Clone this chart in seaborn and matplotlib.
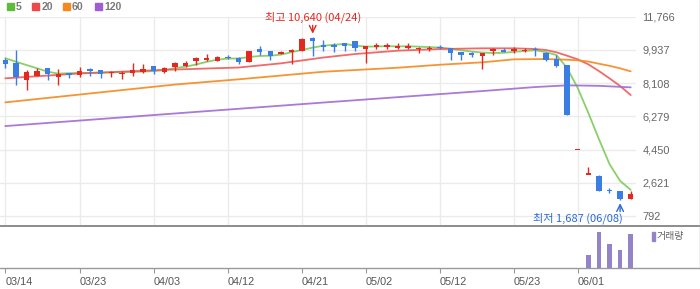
import matplotlib
matplotlib.use("Agg")
import matplotlib.pyplot as plt
from matplotlib.patches import Rectangle
from matplotlib.lines import Line2D
import numpy as np
import pandas as pd
import seaborn as sns

# ---------------- data ----------------
dates = ["03/14", "03/15", "03/16", "03/17", "03/20", "03/21", "03/22", "03/23", "03/24", "03/27",
         "03/28", "03/29", "03/30", "03/31", "04/03", "04/04", "04/05", "04/06", "04/07", "04/10",
         "04/11", "04/12", "04/13", "04/14", "04/17", "04/18", "04/19", "04/20", "04/21", "04/24",
         "04/25", "04/26", "04/27", "04/28", "05/02", "05/03", "05/04", "05/08", "05/09", "05/10",
         "05/11", "05/12", "05/15", "05/16", "05/17", "05/18", "05/19", "05/22", "05/23", "05/24",
         "05/25", "05/26", "05/30", "05/31", "06/01", "06/02", "06/05", "06/07", "06/08", "06/09"]

open_ = [9397, 9215, 8278, 8499, 8939, 8460, 8664, 8554, 8840, 8829,
         8670, 8640, 8664, 8736, 9050, 8719, 8978, 9066, 9309, 9380,
         9342, 9540, 9474, 9270, 9986, 9876, 9694, 9838, 9893, 10600,
         10160, 10223, 10300, 10427, 10003, 10150, 10150, 10085, 10085, 10015,
         10015, 10090, 10025, 9821, 9766, 9617, 9920, 9931, 9920, 9905,
         9975, 9749, 9419, 9121, 4450, 3115, 3005, 2200, 2145, 1738]
high = [9507, 9931, 8829, 8923, 8939, 8884, 8664, 8994, 8956, 8829,
        8791, 8774, 9215, 9143, 9050, 8994, 9286, 9342, 9545, 9694,
        9600, 9655, 9545, 9876, 10152, 9876, 9876, 9970, 10592, 10640,
        10482, 10300, 10300, 10427, 10152, 10300, 10300, 10300, 10300, 10113,
        10150, 10206, 10025, 9821, 9821, 9766, 10025, 10025, 10113, 10025,
        10080, 9821, 9639, 9121, 4450, 3500, 3044, 2311, 2150, 2145]
low = [8956, 8003, 7727, 8499, 8278, 8003, 8405, 8460, 8515, 8405,
       8460, 8333, 8515, 8680, 8625, 8680, 8791, 9011, 9105, 9325,
       9342, 9419, 9160, 9270, 9656, 9397, 9694, 9160, 9893, 9617,
       9893, 9821, 9893, 9893, 9231, 9970, 10000, 10000, 10000, 9750,
       9870, 9970, 9397, 9397, 9529, 8884, 9656, 9804, 9783, 9821,
       9617, 9342, 8978, 6350, 4450, 3115, 2179, 2035, 1687, 1738]
close = [9176, 8443, 8702, 8774, 8609, 8625, 8554, 8774, 8820, 8625,
         8690, 8655, 8846, 8901, 8758, 8956, 9231, 9231, 9490, 9507,
         9545, 9520, 9270, 9876, 9804, 9617, 9821, 9931, 10521, 10427,
         10140, 10080, 10168, 10058, 10152, 10170, 10170, 10105, 10105, 10035,
         10035, 10070, 9783, 9672, 9672, 9766, 9940, 9838, 9940, 9925,
         9965, 9397, 9050, 6350, 4450, 3115, 2179, 2170, 1705, 1997]
# closes of the four sessions before 03/14 (needed for the first 5-day averages)
prior_close = [9433, 9612, 9684, 9520]

# moving averages
ma20_dates = ["03/14", "03/23", "04/04", "04/13", "04/19", "04/25", "04/28", "05/08", "05/12", "05/18",
              "05/23", "05/25", "05/26", "05/30", "05/31", "06/01", "06/02", "06/05", "06/07", "06/08", "06/09"]
ma20_vals = [8372, 8640, 8840, 8967, 9198, 9518, 9711, 9893, 9986, 10025,
             10025, 9986, 9931, 9804, 9617, 9419, 9143, 8774, 8372, 7948, 7452]
ma60_dates = ["03/14", "03/24", "04/05", "04/13", "04/25", "05/08", "05/12", "05/18", "05/23", "05/26",
              "05/31", "06/01", "06/02", "06/05", "06/07", "06/08", "06/09"]
ma60_vals = [7049, 7540, 8030, 8317, 8735, 8956, 9121, 9253, 9419, 9435,
             9397, 9364, 9298, 9177, 9061, 8923, 8757]
ma120_dates = ["03/14", "04/04", "04/25", "05/18", "05/25", "05/31", "06/05", "06/09"]
ma120_vals = [5743, 6394, 7039, 7672, 7893, 7986, 7959, 7876]

vol_dates = ["06/02", "06/05", "06/07", "06/08", "06/09"]
vol_vals = [131, 367, 242, 185, 343]

price_ticks = [792, 2621, 4450, 6279, 8108, 9937, 11766]
date_ticks = ["03/14", "03/23", "04/03", "04/12", "04/21", "05/02", "05/12", "05/23", "06/01"]

legend_labels = ["5", "20", "60", "120"]

# ---------------- style ----------------
sns.set_theme(style="white")
plt.rcParams["font.family"] = ["Liberation Sans", "DejaVu Sans"]
KR = ["Noto Sans CJK KR", "DejaVu Sans"]

UP = "#e3291f"
DOWN = "#3a7de3"
C_MA = {"5": "#7ccb59", "20": "#ef5a5a", "60": "#f5891e", "120": "#a16ad6"}
C_LEG = {"5": "#5dbd3b", "20": "#ef4848", "60": "#f5891e", "120": "#a05cd4"}
GRID = "#ebebeb"

W, H = 700, 289
fig = plt.figure(figsize=(W / 100, H / 100), dpi=100)

def fy(py):
    return 1 - py / H

top_px, mid_px, vtop_px, bot_px, right_px = 16.7, 225.5, 227.0, 268.4, 636
ax = fig.add_axes([0, fy(mid_px), right_px / W, (mid_px - top_px) / H])
axv = fig.add_axes([0, fy(bot_px), right_px / W, (bot_px - vtop_px) / H])

idx = np.arange(len(dates))
pos = {d: i for i, d in enumerate(dates)}

# ---------- moving averages ----------
all_close = pd.Series(prior_close + close, dtype=float)
ma5 = all_close.rolling(5).mean().iloc[len(prior_close):].to_numpy()
frames = [pd.DataFrame({"x": idx, "y": ma5, "ma": "5"})]
for name, ds, vs in [("20", ma20_dates, ma20_vals), ("60", ma60_dates, ma60_vals),
                     ("120", ma120_dates, ma120_vals)]:
    frames.append(pd.DataFrame({"x": [pos[d] for d in ds], "y": vs, "ma": name}))
ma_df = pd.concat(frames, ignore_index=True)
sns.lineplot(data=ma_df, x="x", y="y", hue="ma", palette=C_MA, legend=False,
             ax=ax, linewidth=1.3, alpha=0.9, sort=False, zorder=2)

# ---------- candles ----------
o = np.array(open_, float); c = np.array(close, float)
h = np.array(high, float); l = np.array(low, float)
cols = [UP if cc >= oo else DOWN for oo, cc in zip(o, c)]
min_h = 80.0
body_h = np.abs(c - o)
body_b = np.minimum(o, c)
small = body_h < min_h
body_b = np.where(small, (o + c) / 2 - min_h / 2, body_b)
body_h = np.where(small, min_h, body_h)
ax.vlines(idx, l, h, colors=cols, linewidth=1.0, zorder=3)
ax.bar(idx, body_h, bottom=body_b, width=0.52, color=cols, linewidth=0, zorder=4)

ax.set_xlim(-0.5, len(dates) - 0.5)
ax.set_ylim(11766 - (mid_px - top_px) * (11766 - 792) / (216.0 - top_px), 11766)
ax.set_yticks(price_ticks)
ax.set_yticklabels([f"{v:,}" for v in price_ticks])
ax.yaxis.tick_right()
ax.tick_params(axis="y", length=0, pad=4.5, labelsize=7.9, labelcolor="#666666")
ax.set_xticks([pos[d] for d in date_ticks])
ax.tick_params(axis="x", length=0, labelbottom=False)
ax.grid(True, color=GRID, linewidth=1.0, zorder=0)
ax.set_axisbelow(True)
for s in ax.spines.values():
    s.set_visible(False)
ax.set_xlabel(""); ax.set_ylabel("")

# ---------- annotations ----------
i_hi = int(np.argmax(h)); i_lo = int(np.argmin(l))
ax.annotate("", xy=(i_hi, h[i_hi]), xytext=(0, 8.5), textcoords="offset points",
            arrowprops=dict(arrowstyle="->", color=UP, lw=1.0, shrinkA=0, shrinkB=2.5),
            annotation_clip=False)
ax.annotate(f"최고 {int(h[i_hi]):,} ({dates[i_hi]})", xy=(i_hi, h[i_hi]), xytext=(0, 14.5),
            textcoords="offset points", ha="center", va="center", color=UP,
            fontsize=8, family=KR, annotation_clip=False)
ax.annotate("", xy=(i_lo, l[i_lo]), xytext=(0, -8.5), textcoords="offset points",
            arrowprops=dict(arrowstyle="->", color="#2a69d6", lw=1.0, shrinkA=0, shrinkB=2.5),
            annotation_clip=False)
ax.annotate(f"최저 {int(l[i_lo]):,} ({dates[i_lo]})", xy=(i_lo, l[i_lo]), xytext=(2, -13.5),
            textcoords="offset points", ha="right", va="center", color="#2a69d6",
            fontsize=8, family=KR, annotation_clip=False)

# ---------- volume ----------
vdf = pd.DataFrame({"x": [pos[d] for d in vol_dates], "v": vol_vals})
sns.barplot(data=vdf, x="x", y="v", native_scale=True, color="#9583c9", width=0.42,
            saturation=1, ax=axv, linewidth=0)
axv.set_xlim(-0.5, len(dates) - 0.5)
axv.set_ylim(0, 417)
axv.set_yticks([])
axv.set_xticks([pos[d] for d in date_ticks])
axv.set_xticklabels(date_ticks)
axv.tick_params(axis="x", length=3.5, width=0.8, color="#999999", pad=2.5,
                labelsize=7.8, labelcolor="#555555", bottom=True)
for t in axv.get_xticklabels():
    t.set_ha("left")
for s in axv.spines.values():
    s.set_visible(False)
axv.set_xlabel(""); axv.set_ylabel("")
axv.grid(False)

# ---------- frame lines ----------
fig.add_artist(Line2D([0, 1], [fy(mid_px + 0.5)] * 2, color="#8c8c8c", lw=1.4))
fig.add_artist(Line2D([0, 1], [fy(bot_px)] * 2, color="#9a9a9a", lw=1.0))
fig.add_artist(Line2D([699.5 / W] * 2, [fy(0), fy(bot_px)], color="#b0b0b0", lw=1.0))

# ---------- legends ----------
sq_x = [6.5, 32, 63, 95]
tx_x = [16, 42, 72, 104]
for lab, sx, tx in zip(legend_labels, sq_x, tx_x):
    fig.add_artist(Rectangle((sx / W, fy(10)), 7 / W, 7 / H, color=C_LEG[lab],
                             transform=fig.transFigure))
    fig.text(tx / W, fy(6.6), lab, color="#7a7a7a", fontsize=7.6, fontweight="bold",
             va="center", ha="left")
fig.add_artist(Rectangle((652 / W, fy(241)), 3 / W, 9 / H, color="#9583c9",
                         transform=fig.transFigure))
fig.text(657 / W, fy(236.5), "거래량", color="#666666", fontsize=7.2, family=KR,
         va="center", ha="left")

fig.savefig("out.png", dpi=100)
